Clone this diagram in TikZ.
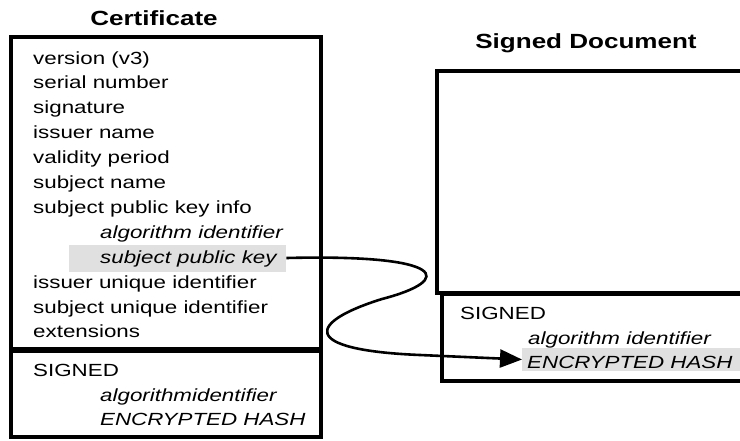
\documentclass[tikz,border=0pt]{standalone}
\usepackage{fontspec}
\setmainfont{Liberation Sans}[FakeStretch=1.27]
\usetikzlibrary{positioning,arrows.meta}

\begin{document}
\begin{tikzpicture}[x=1pt,y=-1pt,
                field/.style={anchor=base west, inner sep=0pt, font=\fontsize{17.6}{19}\selectfont},
                subfield/.style={field, font=\fontsize{17.6}{19}\selectfont\itshape},
                heading/.style={anchor=base, inner sep=0pt, font=\fontsize{20.5}{22}\selectfont\bfseries},
                boxline/.style={draw, line width=4.5pt},
                hlbox/.style={fill=black!12, inner sep=0pt, minimum height=27pt},
            ]
            \clip (0,0) rectangle (740,440);

            %Boxes
            \draw[boxline] (11,37) rectangle (321,349);
            \draw[boxline] (11,351) rectangle (321,437);
            \draw[boxline] (437,71) rectangle (760,293);
            \draw[boxline] (442,294) rectangle (760,381);

            %Highlights
            \node[hlbox, minimum width=217pt, anchor=west] (spkbg)  at (69,258) {};
            \node[hlbox, minimum width=240pt, anchor=west, minimum height=23pt] (hashbg) at (522,359.5) {};

            %Titles
            \node[heading] (certtitle) at (154,25.5) {Certificate};
            \node[heading] (doctitle)  at (586,48.5) {Signed Document};

            %Certificate fields
            \node[field]    (version)   at (33,64)    {version (v3)};
            \node[field]    (serial)    at (33,88.9)  {serial number};
            \node[field]    (sig)       at (33,113.8) {signature};
            \node[field]    (issuer)    at (33,138.7) {issuer name};
            \node[field]    (validity)  at (33,163.6) {validity period};
            \node[field]    (subject)   at (33,188.5) {subject name};
            \node[field]    (spki)      at (33,213.4) {subject public key info};
            \node[subfield] (spkialg)   at (100,238.3) {algorithm identifier};
            \node[subfield] (spk)       at (100,263.2) {subject public key};
            \node[field]    (issueruid) at (33,288.1) {issuer unique identifier};
            \node[field]    (subjuid)   at (33,313)   {subject unique identifier};
            \node[field]    (ext)       at (33,337.9) {extensions};

            %Certificate signature
            \node[field]    (certsigned) at (33,376)  {SIGNED};
            \node[subfield] (certalg)    at (100,401) {algorithmidentifier};
            \node[subfield] (certhash)   at (100,425) {ENCRYPTED HASH};

            %Document signature
            \node[field]    (docsigned) at (460,319) {SIGNED};
            \node[subfield] (docalg)    at (528,344) {algorithm identifier};
            \node[subfield] (dochash)   at (527,368) {ENCRYPTED HASH};

            %Lines
            \coordinate (bend) at (382,299);
            \draw[line width=2.6pt, -{Triangle[length=22pt,width=18pt]}]
                (spkbg.east) .. controls (448,254) and (455,280) .. (bend)
                .. controls (308,322) and (298,350) .. (420,355) -- (hashbg.west);
        \end{tikzpicture}
\end{document}
